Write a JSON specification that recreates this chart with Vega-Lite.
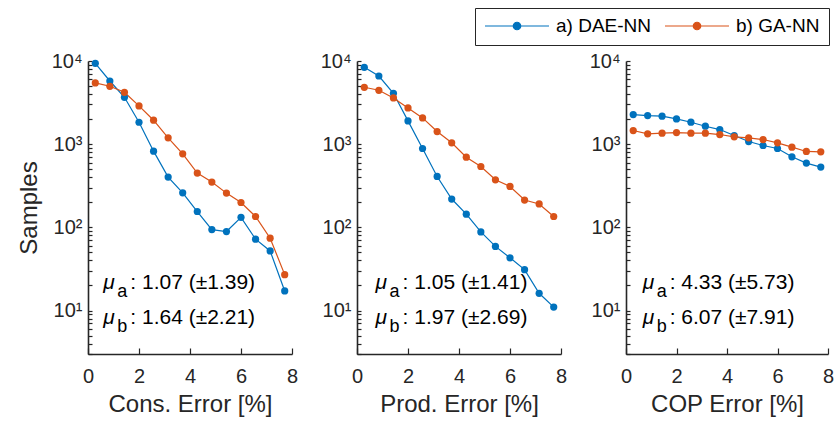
{
  "$schema": "https://vega.github.io/schema/vega-lite/v6.json",
  "background": "white",
  "padding": {"left": 17, "top": 7, "right": 5, "bottom": 5},
  "spacing": 65,
  "bounds": "flush",
  "datasets": {
    "hist": [
      {"panel": "cons", "method": "a) DAE-NN", "error": 0.286, "samples": 9380},
      {"panel": "cons", "method": "a) DAE-NN", "error": 0.857, "samples": 5750},
      {"panel": "cons", "method": "a) DAE-NN", "error": 1.429, "samples": 3660},
      {"panel": "cons", "method": "a) DAE-NN", "error": 2.0, "samples": 1835},
      {"panel": "cons", "method": "a) DAE-NN", "error": 2.571, "samples": 824},
      {"panel": "cons", "method": "a) DAE-NN", "error": 3.143, "samples": 402},
      {"panel": "cons", "method": "a) DAE-NN", "error": 3.714, "samples": 260},
      {"panel": "cons", "method": "a) DAE-NN", "error": 4.286, "samples": 155},
      {"panel": "cons", "method": "a) DAE-NN", "error": 4.857, "samples": 94},
      {"panel": "cons", "method": "a) DAE-NN", "error": 5.429, "samples": 89},
      {"panel": "cons", "method": "a) DAE-NN", "error": 6.0, "samples": 132},
      {"panel": "cons", "method": "a) DAE-NN", "error": 6.571, "samples": 72},
      {"panel": "cons", "method": "a) DAE-NN", "error": 7.143, "samples": 52},
      {"panel": "cons", "method": "a) DAE-NN", "error": 7.714, "samples": 17.2},
      {"panel": "cons", "method": "b) GA-NN", "error": 0.286, "samples": 5445},
      {"panel": "cons", "method": "b) GA-NN", "error": 0.857, "samples": 4966},
      {"panel": "cons", "method": "b) GA-NN", "error": 1.429, "samples": 4207},
      {"panel": "cons", "method": "b) GA-NN", "error": 2.0, "samples": 2884},
      {"panel": "cons", "method": "b) GA-NN", "error": 2.571, "samples": 1941},
      {"panel": "cons", "method": "b) GA-NN", "error": 3.143, "samples": 1191},
      {"panel": "cons", "method": "b) GA-NN", "error": 3.714, "samples": 765},
      {"panel": "cons", "method": "b) GA-NN", "error": 4.286, "samples": 449},
      {"panel": "cons", "method": "b) GA-NN", "error": 4.857, "samples": 350},
      {"panel": "cons", "method": "b) GA-NN", "error": 5.429, "samples": 258},
      {"panel": "cons", "method": "b) GA-NN", "error": 6.0, "samples": 199},
      {"panel": "cons", "method": "b) GA-NN", "error": 6.571, "samples": 135},
      {"panel": "cons", "method": "b) GA-NN", "error": 7.143, "samples": 74},
      {"panel": "cons", "method": "b) GA-NN", "error": 7.714, "samples": 27},
      {"panel": "prod", "method": "a) DAE-NN", "error": 0.286, "samples": 8400},
      {"panel": "prod", "method": "a) DAE-NN", "error": 0.857, "samples": 6600},
      {"panel": "prod", "method": "a) DAE-NN", "error": 1.429, "samples": 4090},
      {"panel": "prod", "method": "a) DAE-NN", "error": 2.0, "samples": 1905},
      {"panel": "prod", "method": "a) DAE-NN", "error": 2.571, "samples": 887},
      {"panel": "prod", "method": "a) DAE-NN", "error": 3.143, "samples": 409},
      {"panel": "prod", "method": "a) DAE-NN", "error": 3.714, "samples": 219},
      {"panel": "prod", "method": "a) DAE-NN", "error": 4.286, "samples": 144},
      {"panel": "prod", "method": "a) DAE-NN", "error": 4.857, "samples": 88},
      {"panel": "prod", "method": "a) DAE-NN", "error": 5.429, "samples": 59},
      {"panel": "prod", "method": "a) DAE-NN", "error": 6.0, "samples": 43},
      {"panel": "prod", "method": "a) DAE-NN", "error": 6.571, "samples": 31},
      {"panel": "prod", "method": "a) DAE-NN", "error": 7.143, "samples": 16.1},
      {"panel": "prod", "method": "a) DAE-NN", "error": 7.714, "samples": 11},
      {"panel": "prod", "method": "b) GA-NN", "error": 0.286, "samples": 4830},
      {"panel": "prod", "method": "b) GA-NN", "error": 0.857, "samples": 4446},
      {"panel": "prod", "method": "b) GA-NN", "error": 1.429, "samples": 3597},
      {"panel": "prod", "method": "b) GA-NN", "error": 2.0, "samples": 2729},
      {"panel": "prod", "method": "b) GA-NN", "error": 2.571, "samples": 2070},
      {"panel": "prod", "method": "b) GA-NN", "error": 3.143, "samples": 1418},
      {"panel": "prod", "method": "b) GA-NN", "error": 3.714, "samples": 1038},
      {"panel": "prod", "method": "b) GA-NN", "error": 4.286, "samples": 698},
      {"panel": "prod", "method": "b) GA-NN", "error": 4.857, "samples": 539},
      {"panel": "prod", "method": "b) GA-NN", "error": 5.429, "samples": 373},
      {"panel": "prod", "method": "b) GA-NN", "error": 6.0, "samples": 310},
      {"panel": "prod", "method": "b) GA-NN", "error": 6.571, "samples": 213},
      {"panel": "prod", "method": "b) GA-NN", "error": 7.143, "samples": 191},
      {"panel": "prod", "method": "b) GA-NN", "error": 7.714, "samples": 135},
      {"panel": "cop", "method": "a) DAE-NN", "error": 0.286, "samples": 2270},
      {"panel": "cop", "method": "a) DAE-NN", "error": 0.857, "samples": 2208},
      {"panel": "cop", "method": "a) DAE-NN", "error": 1.429, "samples": 2168},
      {"panel": "cop", "method": "a) DAE-NN", "error": 2.0, "samples": 2014},
      {"panel": "cop", "method": "a) DAE-NN", "error": 2.571, "samples": 1836},
      {"panel": "cop", "method": "a) DAE-NN", "error": 3.143, "samples": 1644},
      {"panel": "cop", "method": "a) DAE-NN", "error": 3.714, "samples": 1499},
      {"panel": "cop", "method": "a) DAE-NN", "error": 4.286, "samples": 1271},
      {"panel": "cop", "method": "a) DAE-NN", "error": 4.857, "samples": 1076},
      {"panel": "cop", "method": "a) DAE-NN", "error": 5.429, "samples": 964},
      {"panel": "cop", "method": "a) DAE-NN", "error": 6.0, "samples": 887},
      {"panel": "cop", "method": "a) DAE-NN", "error": 6.571, "samples": 705},
      {"panel": "cop", "method": "a) DAE-NN", "error": 7.143, "samples": 592},
      {"panel": "cop", "method": "a) DAE-NN", "error": 7.714, "samples": 530},
      {"panel": "cop", "method": "b) GA-NN", "error": 0.286, "samples": 1459},
      {"panel": "cop", "method": "b) GA-NN", "error": 0.857, "samples": 1330},
      {"panel": "cop", "method": "b) GA-NN", "error": 1.429, "samples": 1355},
      {"panel": "cop", "method": "b) GA-NN", "error": 2.0, "samples": 1380},
      {"panel": "cop", "method": "b) GA-NN", "error": 2.571, "samples": 1355},
      {"panel": "cop", "method": "b) GA-NN", "error": 3.143, "samples": 1355},
      {"panel": "cop", "method": "b) GA-NN", "error": 3.714, "samples": 1306},
      {"panel": "cop", "method": "b) GA-NN", "error": 4.286, "samples": 1225},
      {"panel": "cop", "method": "b) GA-NN", "error": 4.857, "samples": 1191},
      {"panel": "cop", "method": "b) GA-NN", "error": 5.429, "samples": 1137},
      {"panel": "cop", "method": "b) GA-NN", "error": 6.0, "samples": 1038},
      {"panel": "cop", "method": "b) GA-NN", "error": 6.571, "samples": 920},
      {"panel": "cop", "method": "b) GA-NN", "error": 7.143, "samples": 817},
      {"panel": "cop", "method": "b) GA-NN", "error": 7.714, "samples": 809}
    ],
    "notes": [
      {"panel": "cons", "sub": "a", "stat": ": 1.07 (±1.39)"},
      {"panel": "cons", "sub": "b", "stat": ": 1.64 (±2.21)"},
      {"panel": "prod", "sub": "a", "stat": ": 1.05 (±1.41)"},
      {"panel": "prod", "sub": "b", "stat": ": 1.97 (±2.69)"},
      {"panel": "cop", "sub": "a", "stat": ": 4.33 (±5.73)"},
      {"panel": "cop", "sub": "b", "stat": ": 6.07 (±7.91)"}
    ]
  },
  "hconcat": [
    {
      "width": 204, "height": 293,
      "layer": [
        {"data": {"name": "hist"}, "transform": [{"filter": "datum.panel == 'cons'"}], "mark": {"type": "line", "strokeWidth": 1.2},
         "encoding": {"x": {"field": "error", "type": "quantitative", "scale": {"domain": [0, 8], "nice": false}, "axis": {"title": "Cons. Error [%]", "values": [0, 2, 4, 6, 8]}},
                      "y": {"field": "samples", "type": "quantitative", "scale": {"type": "log", "domain": [3, 10000], "nice": false}, "axis": {"title": "Samples"}},
                      "color": {"field": "method", "type": "nominal"}}},
        {"data": {"name": "hist"}, "transform": [{"filter": "datum.panel == 'cons'"}], "mark": {"type": "point", "filled": true, "size": 52, "opacity": 1},
         "encoding": {"x": {"field": "error", "type": "quantitative"}, "y": {"field": "samples", "type": "quantitative"}, "color": {"field": "method", "type": "nominal"}}},
        {"data": {"name": "notes"}, "transform": [{"filter": "datum.panel == 'cons' && datum.sub == 'a'"}], "mark": {"type": "text", "text": "μ", "fontStyle": "italic", "align": "left", "baseline": "alphabetic", "fontSize": 21, "color": "#000000"}, "encoding": {"x": {"datum": 0.6, "type": "quantitative"}, "y": {"datum": 17.9, "type": "quantitative"}}},
        {"data": {"name": "notes"}, "transform": [{"filter": "datum.panel == 'cons' && datum.sub == 'a'"}], "mark": {"type": "text", "dx": 14, "dy": 8, "align": "left", "baseline": "alphabetic", "fontSize": 18, "color": "#000000"}, "encoding": {"text": {"field": "sub"}, "x": {"datum": 0.6, "type": "quantitative"}, "y": {"datum": 17.9, "type": "quantitative"}}},
        {"data": {"name": "notes"}, "transform": [{"filter": "datum.panel == 'cons' && datum.sub == 'a'"}], "mark": {"type": "text", "dx": 27, "align": "left", "baseline": "alphabetic", "fontSize": 21, "color": "#000000"}, "encoding": {"text": {"field": "stat"}, "x": {"datum": 0.6, "type": "quantitative"}, "y": {"datum": 17.9, "type": "quantitative"}}},
        {"data": {"name": "notes"}, "transform": [{"filter": "datum.panel == 'cons' && datum.sub == 'b'"}], "mark": {"type": "text", "text": "μ", "fontStyle": "italic", "align": "left", "baseline": "alphabetic", "fontSize": 21, "color": "#000000"}, "encoding": {"x": {"datum": 0.6, "type": "quantitative"}, "y": {"datum": 6.8, "type": "quantitative"}}},
        {"data": {"name": "notes"}, "transform": [{"filter": "datum.panel == 'cons' && datum.sub == 'b'"}], "mark": {"type": "text", "dx": 14, "dy": 8, "align": "left", "baseline": "alphabetic", "fontSize": 18, "color": "#000000"}, "encoding": {"text": {"field": "sub"}, "x": {"datum": 0.6, "type": "quantitative"}, "y": {"datum": 6.8, "type": "quantitative"}}},
        {"data": {"name": "notes"}, "transform": [{"filter": "datum.panel == 'cons' && datum.sub == 'b'"}], "mark": {"type": "text", "dx": 27, "align": "left", "baseline": "alphabetic", "fontSize": 21, "color": "#000000"}, "encoding": {"text": {"field": "stat"}, "x": {"datum": 0.6, "type": "quantitative"}, "y": {"datum": 6.8, "type": "quantitative"}}}
      ]
    },
    {
      "width": 204, "height": 293,
      "layer": [
        {"data": {"name": "hist"}, "transform": [{"filter": "datum.panel == 'prod'"}], "mark": {"type": "line", "strokeWidth": 1.2},
         "encoding": {"x": {"field": "error", "type": "quantitative", "scale": {"domain": [0, 8], "nice": false}, "axis": {"title": "Prod. Error [%]", "values": [0, 2, 4, 6, 8]}},
                      "y": {"field": "samples", "type": "quantitative", "scale": {"type": "log", "domain": [3, 10000], "nice": false}, "axis": {"title": null}},
                      "color": {"field": "method", "type": "nominal"}}},
        {"data": {"name": "hist"}, "transform": [{"filter": "datum.panel == 'prod'"}], "mark": {"type": "point", "filled": true, "size": 52, "opacity": 1},
         "encoding": {"x": {"field": "error", "type": "quantitative"}, "y": {"field": "samples", "type": "quantitative"}, "color": {"field": "method", "type": "nominal"}}},
        {"data": {"name": "notes"}, "transform": [{"filter": "datum.panel == 'prod' && datum.sub == 'a'"}], "mark": {"type": "text", "text": "μ", "fontStyle": "italic", "align": "left", "baseline": "alphabetic", "fontSize": 21, "color": "#000000"}, "encoding": {"x": {"datum": 0.73, "type": "quantitative"}, "y": {"datum": 17.9, "type": "quantitative"}}},
        {"data": {"name": "notes"}, "transform": [{"filter": "datum.panel == 'prod' && datum.sub == 'a'"}], "mark": {"type": "text", "dx": 14, "dy": 8, "align": "left", "baseline": "alphabetic", "fontSize": 18, "color": "#000000"}, "encoding": {"text": {"field": "sub"}, "x": {"datum": 0.73, "type": "quantitative"}, "y": {"datum": 17.9, "type": "quantitative"}}},
        {"data": {"name": "notes"}, "transform": [{"filter": "datum.panel == 'prod' && datum.sub == 'a'"}], "mark": {"type": "text", "dx": 27, "align": "left", "baseline": "alphabetic", "fontSize": 21, "color": "#000000"}, "encoding": {"text": {"field": "stat"}, "x": {"datum": 0.73, "type": "quantitative"}, "y": {"datum": 17.9, "type": "quantitative"}}},
        {"data": {"name": "notes"}, "transform": [{"filter": "datum.panel == 'prod' && datum.sub == 'b'"}], "mark": {"type": "text", "text": "μ", "fontStyle": "italic", "align": "left", "baseline": "alphabetic", "fontSize": 21, "color": "#000000"}, "encoding": {"x": {"datum": 0.73, "type": "quantitative"}, "y": {"datum": 6.8, "type": "quantitative"}}},
        {"data": {"name": "notes"}, "transform": [{"filter": "datum.panel == 'prod' && datum.sub == 'b'"}], "mark": {"type": "text", "dx": 14, "dy": 8, "align": "left", "baseline": "alphabetic", "fontSize": 18, "color": "#000000"}, "encoding": {"text": {"field": "sub"}, "x": {"datum": 0.73, "type": "quantitative"}, "y": {"datum": 6.8, "type": "quantitative"}}},
        {"data": {"name": "notes"}, "transform": [{"filter": "datum.panel == 'prod' && datum.sub == 'b'"}], "mark": {"type": "text", "dx": 27, "align": "left", "baseline": "alphabetic", "fontSize": 21, "color": "#000000"}, "encoding": {"text": {"field": "stat"}, "x": {"datum": 0.73, "type": "quantitative"}, "y": {"datum": 6.8, "type": "quantitative"}}}
      ]
    },
    {
      "width": 202, "height": 293,
      "layer": [
        {"data": {"name": "hist"}, "transform": [{"filter": "datum.panel == 'cop'"}], "mark": {"type": "line", "strokeWidth": 1.2},
         "encoding": {"x": {"field": "error", "type": "quantitative", "scale": {"domain": [0, 8], "nice": false}, "axis": {"title": "COP Error [%]", "values": [0, 2, 4, 6, 8]}},
                      "y": {"field": "samples", "type": "quantitative", "scale": {"type": "log", "domain": [3, 10000], "nice": false}, "axis": {"title": null}},
                      "color": {"field": "method", "type": "nominal"}}},
        {"data": {"name": "hist"}, "transform": [{"filter": "datum.panel == 'cop'"}], "mark": {"type": "point", "filled": true, "size": 52, "opacity": 1},
         "encoding": {"x": {"field": "error", "type": "quantitative"}, "y": {"field": "samples", "type": "quantitative"}, "color": {"field": "method", "type": "nominal"}}},
        {"data": {"name": "notes"}, "transform": [{"filter": "datum.panel == 'cop' && datum.sub == 'a'"}], "mark": {"type": "text", "text": "μ", "fontStyle": "italic", "align": "left", "baseline": "alphabetic", "fontSize": 21, "color": "#000000"}, "encoding": {"x": {"datum": 0.66, "type": "quantitative"}, "y": {"datum": 17.9, "type": "quantitative"}}},
        {"data": {"name": "notes"}, "transform": [{"filter": "datum.panel == 'cop' && datum.sub == 'a'"}], "mark": {"type": "text", "dx": 14, "dy": 8, "align": "left", "baseline": "alphabetic", "fontSize": 18, "color": "#000000"}, "encoding": {"text": {"field": "sub"}, "x": {"datum": 0.66, "type": "quantitative"}, "y": {"datum": 17.9, "type": "quantitative"}}},
        {"data": {"name": "notes"}, "transform": [{"filter": "datum.panel == 'cop' && datum.sub == 'a'"}], "mark": {"type": "text", "dx": 27, "align": "left", "baseline": "alphabetic", "fontSize": 21, "color": "#000000"}, "encoding": {"text": {"field": "stat"}, "x": {"datum": 0.66, "type": "quantitative"}, "y": {"datum": 17.9, "type": "quantitative"}}},
        {"data": {"name": "notes"}, "transform": [{"filter": "datum.panel == 'cop' && datum.sub == 'b'"}], "mark": {"type": "text", "text": "μ", "fontStyle": "italic", "align": "left", "baseline": "alphabetic", "fontSize": 21, "color": "#000000"}, "encoding": {"x": {"datum": 0.66, "type": "quantitative"}, "y": {"datum": 6.8, "type": "quantitative"}}},
        {"data": {"name": "notes"}, "transform": [{"filter": "datum.panel == 'cop' && datum.sub == 'b'"}], "mark": {"type": "text", "dx": 14, "dy": 8, "align": "left", "baseline": "alphabetic", "fontSize": 18, "color": "#000000"}, "encoding": {"text": {"field": "sub"}, "x": {"datum": 0.66, "type": "quantitative"}, "y": {"datum": 6.8, "type": "quantitative"}}},
        {"data": {"name": "notes"}, "transform": [{"filter": "datum.panel == 'cop' && datum.sub == 'b'"}], "mark": {"type": "text", "dx": 27, "align": "left", "baseline": "alphabetic", "fontSize": 21, "color": "#000000"}, "encoding": {"text": {"field": "stat"}, "x": {"datum": 0.66, "type": "quantitative"}, "y": {"datum": 6.8, "type": "quantitative"}}}
      ]
    }
  ],
  "resolve": {"scale": {"color": "shared"}},
  "config": {
    "view": {"stroke": null},
    "font": "Liberation Sans",
    "range": {"category": ["#0072BD", "#D95319"]},
    "axis": {
      "grid": false,
      "domainColor": "#262626", "domainWidth": 1.6,
      "tickColor": "#262626", "tickWidth": 1.2, "tickSize": -6,
      "labelColor": "#262626", "labelFontSize": 20, "labelFont": "Liberation Sans",
      "titleColor": "#262626", "titleFontSize": 24, "titleFont": "Liberation Sans", "titleFontWeight": "normal"
    },
    "axisX": {"labelPadding": 18, "titlePadding": 6, "labelFlush": false},
    "axisY": {
      "values": [3, 4, 5, 6, 7, 8, 9, 10, 20, 30, 40, 50, 60, 70, 80, 90, 100, 200, 300, 400, 500, 600, 700, 800, 900, 1000, 2000, 3000, 4000, 5000, 6000, 7000, 8000, 9000, 10000],
      "labelExpr": "datum.value == 10 ? '10¹' : datum.value == 100 ? '10²' : datum.value == 1000 ? '10³' : datum.value == 10000 ? '10⁴' : ''",
      "labelOverlap": false, "labelFlush": false, "labelPadding": 10, "tickSize": -4, "titlePadding": 10
    },
    "legend": {
      "orient": "none", "legendX": 387, "legendY": -53,
      "direction": "horizontal", "columns": 2, "title": null,
      "strokeColor": "#262626", "fillColor": "white", "padding": 9,
      "labelFontSize": 19, "labelColor": "#000000", "labelFont": "Liberation Sans", "labelOffset": 6,
      "columnPadding": 12, "symbolSize": 4096, "clipHeight": 18,
      "symbolType": "M-1,0H1M0.117,0A0.117,0.117,0,1,1,-0.117,0A0.117,0.117,0,1,1,0.117,0Z",
      "symbolStrokeWidth": 1.2, "symbolOpacity": 1
    }
  }
}
